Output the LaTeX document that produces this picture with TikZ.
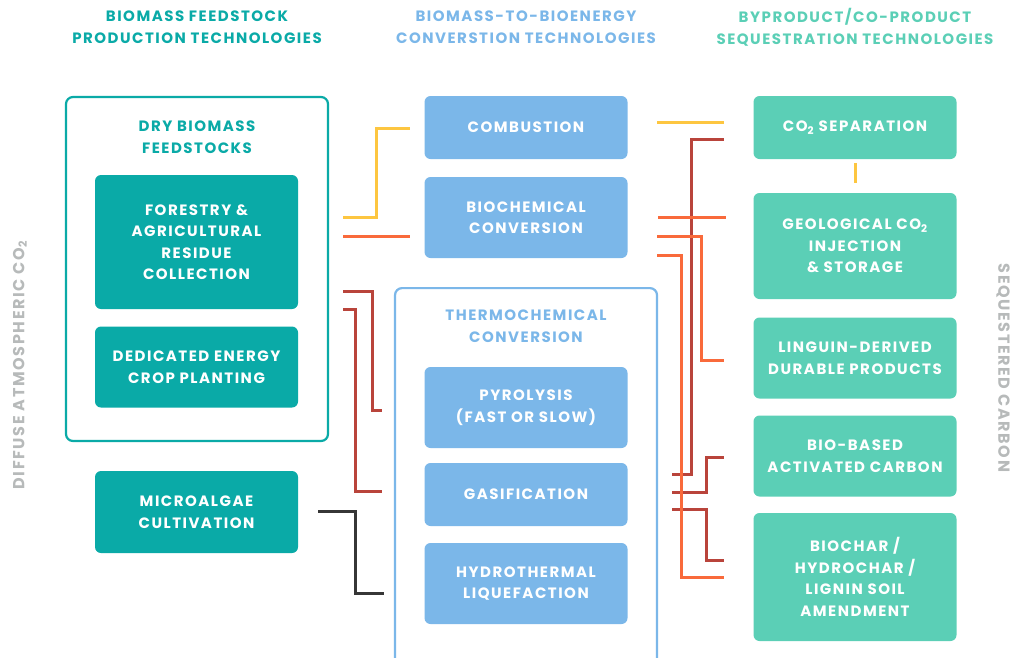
\documentclass[tikz,border=0pt]{standalone}
\usepackage{fontspec}
\setmainfont{Poppins}[LetterSpace=10]
\usetikzlibrary{calc}
\definecolor{tealD}{HTML}{0AAAA7}
\definecolor{blueL}{HTML}{7BB7E9}
\definecolor{greenL}{HTML}{5BCFB6}
\definecolor{yel}{HTML}{FDC640}
\definecolor{ora}{HTML}{F96A3B}
\definecolor{dred}{HTML}{B9443B}
\definecolor{blk}{HTML}{363636}
\definecolor{grayL}{HTML}{B7BABA}
\tikzset{
  bx/.style={rounded corners=6, minimum width=203, align=center, text=white,
     font=\fontsize{15}{21.5}\selectfont\bfseries, inner sep=0},
  tbox/.style={bx, fill=tealD},
  bbox/.style={bx, fill=blueL},
  gbox/.style={bx, fill=greenL},
  hdr/.style={align=center, font=\fontsize{15}{22}\selectfont\bfseries},
  frame/.style={rounded corners=7, line width=2.2pt, fill=white},
  ln/.style={line width=3pt},
}
\begin{document}
\begin{tikzpicture}[x=1pt,y=-1pt]
\useasboundingbox (0,0) rectangle (1016,657);
\clip (0,0) rectangle (1016,657);
% headers
\node[hdr, text=tealD] (h1) at (197,27) {BIOMASS FEEDSTOCK\\PRODUCTION TECHNOLOGIES};
\node[hdr, text=blueL] (h2) at (526,27) {BIOMASS-TO-BIOENERGY\\CONVERSTION TECHNOLOGIES};
\node[hdr, text=greenL] (h3) at (855,27) {BYPRODUCT/CO-PRODUCT\\SEQUESTRATION TECHNOLOGIES};
% side labels
\node[hdr, text=grayL, rotate=90, font=\fontsize{16}{22}\selectfont\bfseries] (s1) at (20,365) {DIFFUSE ATMOSPHERIC CO\textsubscript{2}};
\node[hdr, text=grayL, rotate=-90, font=\fontsize{16}{22}\selectfont\bfseries] (s2) at (1003,368) {SEQUESTERED CARBON};
% left frame
\node[frame, draw=tealD, minimum width=262, minimum height=344] (dry) at (197,269) {};
\node[hdr, text=tealD, anchor=north] (dryt) at (197,117) {DRY BIOMASS\\FEEDSTOCKS};
\node[tbox, minimum height=134] (forestry) at (196.5,242) {FORESTRY \&\\AGRICULTURAL\\RESIDUE\\COLLECTION};
\node[tbox, minimum height=81] (dedicated) at (196.5,367) {DEDICATED ENERGY\\CROP PLANTING};
\node[tbox, minimum height=82] (micro) at (196.5,512) {MICROALGAE\\CULTIVATION};
% middle
\node[bbox, minimum height=63] (comb) at (526,127.5) {COMBUSTION};
\node[bbox, minimum height=81] (biochem) at (526,217.5) {BIOCHEMICAL\\CONVERSION};
\node[frame, draw=blueL, minimum width=262, minimum height=400, anchor=north] (thermo) at (526,287) {};
\node[hdr, text=blueL, anchor=north] (thermot) at (526,306) {THERMOCHEMICAL\\CONVERSION};
\node[bbox, minimum height=81] (pyro) at (526,407.5) {PYROLYSIS\\(FAST OR SLOW)};
\node[bbox, minimum height=63] (gasif) at (526,494.5) {GASIFICATION};
\node[bbox, minimum height=81] (hydro) at (526,583.5) {HYDROTHERMAL\\LIQUEFACTION};
% right
\node[gbox, minimum height=63] (co2sep) at (855,127.5) {CO\textsubscript{2} SEPARATION};
\node[gbox, minimum height=106] (geo) at (855,246) {GEOLOGICAL CO\textsubscript{2}\\INJECTION\\\& STORAGE};
\node[gbox, minimum height=81] (lign) at (855,358) {LINGUIN-DERIVED\\DURABLE PRODUCTS};
\node[gbox, minimum height=81] (bioact) at (855,456) {BIO-BASED\\ACTIVATED CARBON};
\node[gbox, minimum height=128] (biochar) at (855,577) {BIOCHAR /\\HYDROCHAR /\\LIGNIN SOIL\\AMENDMENT};
% connector end coordinates
\coordinate (Ly1) at (343,217); \coordinate (Ly2) at (410,128);
\coordinate (Lo1) at (343,236); \coordinate (Lo2) at (410,236);
\coordinate (La1) at (343,291); \coordinate (La2) at (382,410);
\coordinate (Lb1) at (343,309); \coordinate (Lb2) at (382,491);
\coordinate (Lk1) at (318,511); \coordinate (Lk2) at (384,593);
\coordinate (Ry1) at (657,122); \coordinate (Ry2) at (724,122);
\coordinate (Rv1) at (855,163); \coordinate (Rv2) at (855,183);
\coordinate (Rd1) at (672,474); \coordinate (Rd2) at (724,139);
\coordinate (Ro1) at (658,217); \coordinate (Ro2) at (726,217);
\coordinate (Rp1) at (657,236); \coordinate (Rp2) at (724,360);
\coordinate (Rq1) at (657,255); \coordinate (Rq2) at (724,577);
\coordinate (Re1) at (672,492); \coordinate (Re2) at (724,457);
\coordinate (Rf1) at (672,509); \coordinate (Rf2) at (724,560);
% left connectors
\draw[ln, yel] (Ly1) -- (376,217) -- (376,128) -- (Ly2);
\draw[ln, ora] (Lo1) -- (Lo2);
\draw[ln, dred] (La1) -- (372,291) -- (372,410) -- (La2);
\draw[ln, dred] (Lb1) -- (355,309) -- (355,491) -- (Lb2);
\draw[ln, blk] (Lk1) -- (355,511) -- (355,593) -- (Lk2);
% right connectors
\draw[ln, yel] (Ry1) -- (Ry2);
\draw[ln, yel] (Rv1) -- (Rv2);
\draw[ln, dred] (Rd1) -- (691,474) -- (691,139) -- (Rd2);
\draw[ln, dred] (Re1) -- (706,492) -- (706,457) -- (Re2);
\draw[ln, dred] (Rf1) -- (706,509) -- (706,560) -- (Rf2);
\draw[ln, ora] (Ro1) -- (Ro2);
\draw[ln, ora] (Rp1) -- (701,236) -- (701,360) -- (Rp2);
\draw[ln, ora] (Rq1) -- (681,255) -- (681,577) -- (Rq2);
\end{tikzpicture}
\end{document}
